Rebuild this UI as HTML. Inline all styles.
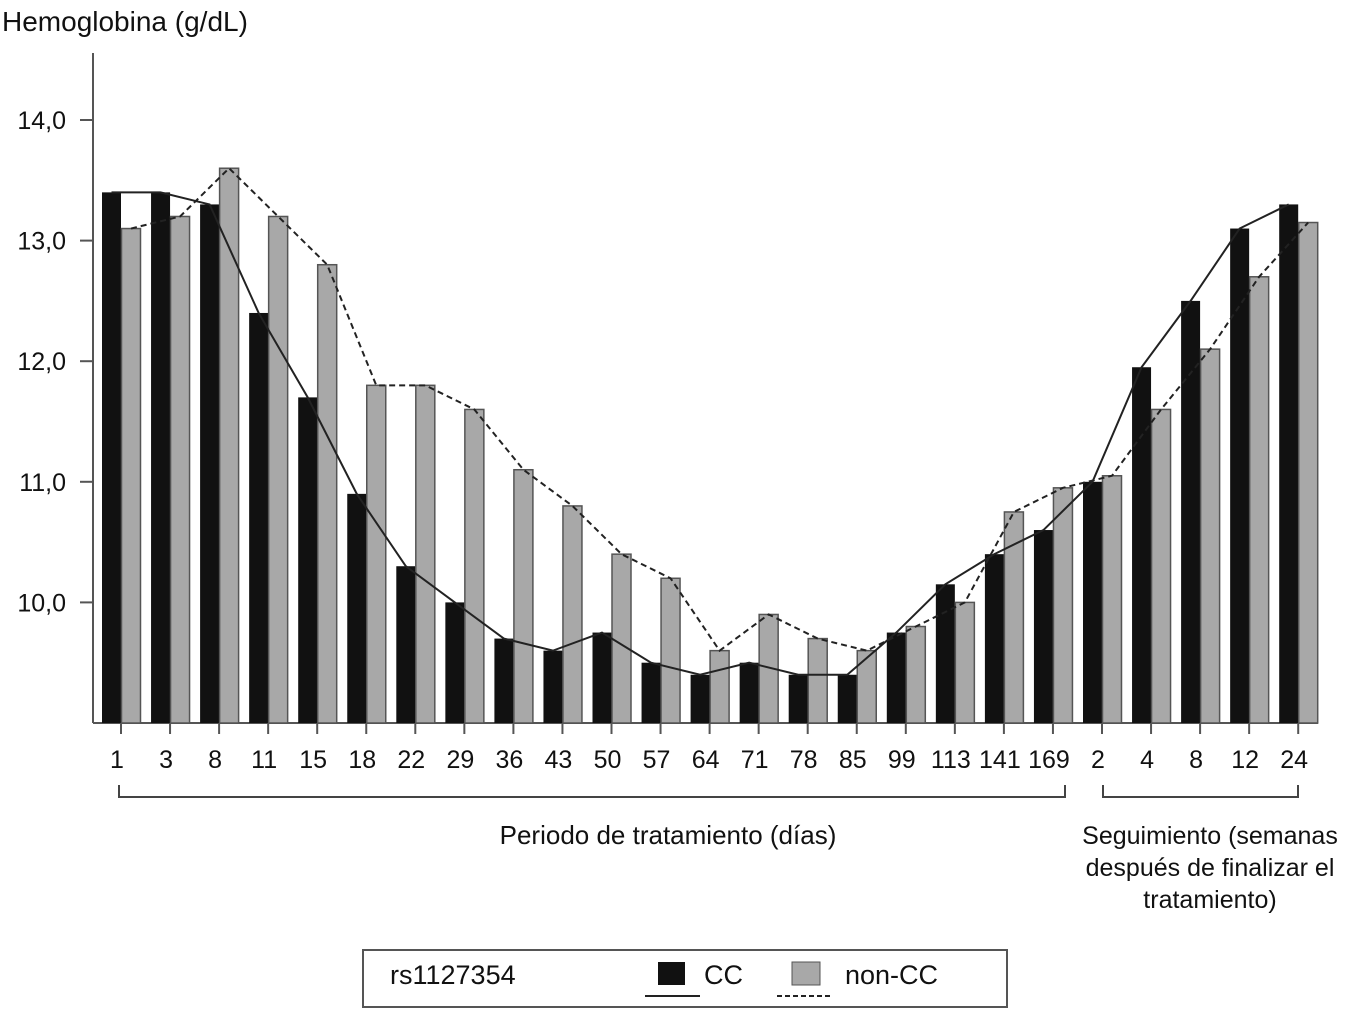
<!DOCTYPE html>
<html><head><meta charset="utf-8"><style>
body{margin:0;background:#fff;}
svg text{font-family:"Liberation Sans",sans-serif;fill:#111;}
</style></head><body>
<svg id="chart" width="1350" height="1013" viewBox="0 0 1350 1013">
<text x="2" y="31" font-size="28">Hemoglobina (g/dL)</text>
<line x1="93" y1="53" x2="93" y2="723" stroke="#555" stroke-width="2"/>
<line x1="93" y1="723" x2="1318" y2="723" stroke="#555" stroke-width="2"/>
<g id="yt"></g><g id="bars"></g><g id="lines"></g><g id="xt"></g>
<path d="M119 785 V797 H1065 V785" fill="none" stroke="#444" stroke-width="2"/>
<path d="M1103 785 V797 H1298 V785" fill="none" stroke="#444" stroke-width="2"/>
<text x="668" y="844" font-size="26" text-anchor="middle">Periodo de tratamiento (días)</text>
<g font-size="25" text-anchor="middle">
<text x="1210" y="844">Seguimiento (semanas</text>
<text x="1210" y="876">después de finalizar el</text>
<text x="1210" y="908">tratamiento)</text></g>
<g>
<rect x="363" y="950" width="644" height="57" fill="#fff" stroke="#555" stroke-width="2"/>
<text x="390" y="984" font-size="27">rs1127354</text>
<rect x="658" y="962" width="27" height="23" fill="#111"/>
<text x="704" y="984" font-size="27">CC</text>
<line x1="645" y1="996" x2="700" y2="996" stroke="#222" stroke-width="2"/>
<rect x="792" y="962" width="28" height="23" fill="#a8a8a8" stroke="#555"/>
<text x="845" y="984" font-size="27">non-CC</text>
<line x1="777" y1="996" x2="832" y2="996" stroke="#222" stroke-width="2" stroke-dasharray="5,3"/>
</g>
</svg>
<script>
const categories=["1","3","8","11","15","18","22","29","36","43","50","57","64","71","78","85","99","113","141","169","2","4","8","12","24"];
const ccValues=[13.4,13.4,13.3,12.4,11.7,10.9,10.3,10.0,9.7,9.6,9.75,9.5,9.4,9.5,9.4,9.4,9.75,10.15,10.4,10.6,11.0,11.95,12.5,13.1,13.3];
const nonccValues=[13.1,13.2,13.6,13.2,12.8,11.8,11.8,11.6,11.1,10.8,10.4,10.2,9.6,9.9,9.7,9.6,9.8,10.0,10.75,10.95,11.05,11.6,12.1,12.7,13.15];
const yTicks=[10,11,12,13,14];
const NS="http://www.w3.org/2000/svg";
function y(v){return 723-(v-9)*120.6;}
function xc(i){return 121+i*49.05;}
function mk(t,a,p){const e=document.createElementNS(NS,t);for(const k in a)e.setAttribute(k,a[k]);p.appendChild(e);return e;}
const yt=document.getElementById('yt'),bars=document.getElementById('bars'),lines=document.getElementById('lines'),xt=document.getElementById('xt');
yTicks.forEach(v=>{
const l=mk('line',{x1:80,x2:93,y1:y(v),y2:y(v),stroke:'#555','stroke-width':2},yt);


const t=mk('text',{x:66,y:y(v)+9,'font-size':25,'text-anchor':'end'},yt);t.textContent=v.toFixed(1).replace('.',',');


});
categories.forEach((c,i)=>{
const b=mk('rect',{x:xc(i)-19,y:y(ccValues[i]),width:19,height:723-y(ccValues[i]),fill:'#111'},bars);


const g=mk('rect',{x:xc(i)+0.5,y:y(nonccValues[i]),width:19,height:723-y(nonccValues[i]),fill:'#a8a8a8',stroke:'#555','stroke-width':1.5},bars);


const tk=mk('line',{x1:xc(i),x2:xc(i),y1:723,y2:734,stroke:'#555','stroke-width':2},xt);


const t=mk('text',{x:xc(i)-4,y:768,'font-size':25,'text-anchor':'middle'},xt);t.textContent=c;


});
const p1=mk('polyline',{points:ccValues.map((v,i)=>(xc(i)-9.5)+','+y(v)).join(' '),fill:'none',stroke:'#222','stroke-width':2},lines);


const p2=mk('polyline',{points:nonccValues.map((v,i)=>(xc(i)+10)+','+y(v)).join(' '),fill:'none',stroke:'#222','stroke-width':2,'stroke-dasharray':'6,4'},lines);


</script>
</body></html>
